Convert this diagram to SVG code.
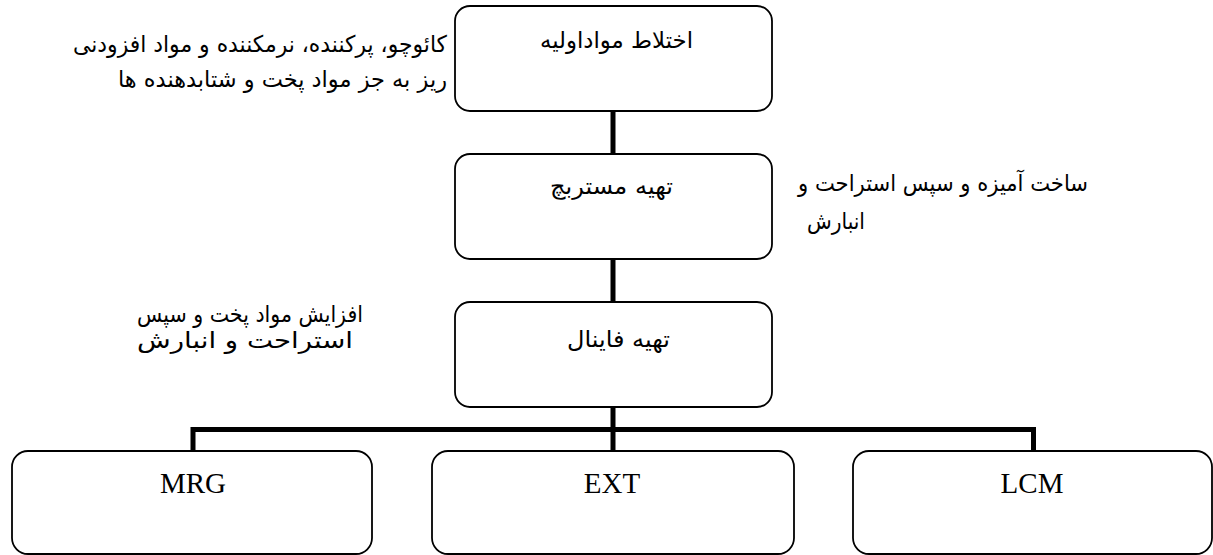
<svg xmlns="http://www.w3.org/2000/svg" width="1213" height="555" viewBox="0 0 1213 555">
<style>
.box{fill:#fff;stroke:#000;stroke-width:1.8}
.fa{font-family:"DejaVu Sans","Noto Sans",sans-serif;font-size:23px;fill:#000}
.en{font-family:"Liberation Serif","Times New Roman",serif;font-size:29px;fill:#000}
.con{fill:none;stroke:#000;stroke-width:5}
</style>
<rect width="1213" height="555" fill="#fff"/>
<g id="connectors">
<line class="con" x1="613" y1="111" x2="613" y2="154"/>
<line class="con" x1="613" y1="259" x2="613" y2="302"/>
<line class="con" x1="613" y1="407" x2="613" y2="451"/>
<path class="con" d="M193,451 V429.5 H1033.5 V451"/>
</g>
<g id="node-mix">
<rect class="box" x="455" y="6" width="317" height="105" rx="15"/>
<text class="fa" x="616.5" y="48" text-anchor="middle" direction="rtl" textLength="153" lengthAdjust="spacingAndGlyphs">اختلاط مواداولیه</text>
</g>
<g id="node-masterbatch">
<rect class="box" x="455" y="154" width="317" height="105" rx="15"/>
<text class="fa" x="611.5" y="194" text-anchor="middle" direction="rtl" textLength="123" lengthAdjust="spacingAndGlyphs">تهیه مستربچ</text>
</g>
<g id="node-final">
<rect class="box" x="455" y="302" width="317" height="105" rx="15"/>
<text class="fa" x="618.5" y="347" text-anchor="middle" direction="rtl" textLength="103" lengthAdjust="spacingAndGlyphs">تهیه فاینال</text>
</g>
<g id="node-mrg">
<rect class="box" x="12" y="451" width="360" height="103" rx="16"/>
<text class="en" x="193" y="493" text-anchor="middle">MRG</text>
</g>
<g id="node-ext">
<rect class="box" x="432" y="451" width="362" height="103" rx="16"/>
<text class="en" x="612" y="493" text-anchor="middle">EXT</text>
</g>
<g id="node-lcm">
<rect class="box" x="853" y="451" width="359" height="103" rx="16"/>
<text class="en" x="1032" y="493" text-anchor="middle">LCM</text>
</g>
<g id="label-mix">
<text class="fa" x="260" y="52" text-anchor="middle" direction="rtl" textLength="374" lengthAdjust="spacingAndGlyphs">کائوچو، پرکننده، نرمکننده و مواد افزودنی</text>
<text class="fa" x="282.5" y="87" text-anchor="middle" direction="rtl" textLength="329" lengthAdjust="spacingAndGlyphs">ریز به جز مواد پخت و شتابدهنده ها</text>
</g>
<g id="label-masterbatch">
<text class="fa" x="943" y="191" text-anchor="middle" direction="rtl" textLength="290" lengthAdjust="spacingAndGlyphs">ساخت آمیزه و سپس استراحت و</text>
<text class="fa" x="836" y="229" text-anchor="middle" direction="rtl" textLength="58" lengthAdjust="spacingAndGlyphs">انبارش</text>
</g>
<g id="label-final">
<text class="fa" x="250" y="322" text-anchor="middle" direction="rtl" textLength="226" lengthAdjust="spacingAndGlyphs">افزایش مواد پخت و سپس</text>
<text class="fa" x="245" y="348" text-anchor="middle" direction="rtl" textLength="216" lengthAdjust="spacingAndGlyphs">استراحت و انبارش</text>
</g>
</svg>
